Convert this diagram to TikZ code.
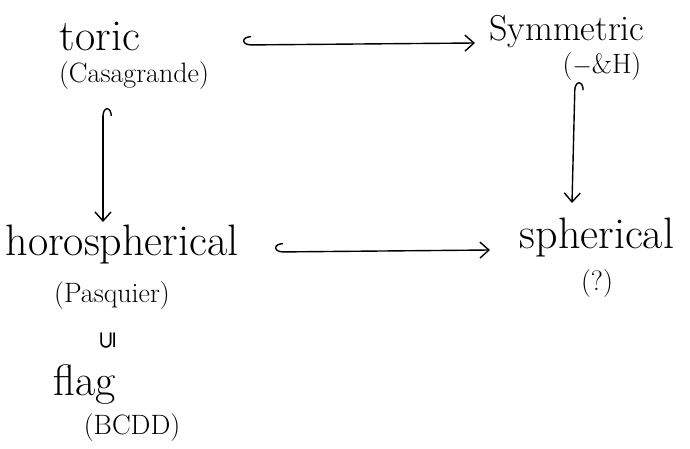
\documentclass[tikz,border=0pt]{standalone}
\usepackage{fontspec}
\newfontfamily\symfont{DejaVu Sans}
\usetikzlibrary{arrows.meta}
\begin{document}
\begin{tikzpicture}[x=1pt,y=-1pt,
  big/.style={font=\fontsize{44}{50}\selectfont, inner sep=0pt},
  mid/.style={font=\fontsize{36}{40}\selectfont, inner sep=0pt},
  small/.style={font=\fontsize{28}{32}\selectfont, inner sep=0pt},
  hk/.style={line width=1.4pt, arrows={Hooks[right,length=8pt,width=18pt]-Straight Barb[length=9pt,width=16pt]}}]
\useasboundingbox (0,0) rectangle (690,449);
\node[big] (toric) at (100,36) {toric};
\node[small] (cas) at (134,76) {(Casagrande)};
\node[mid] (sym) at (567,32) {Symmetric};
\node[small] (sh) at (602,67) {($-$\&H)};
\node[big] (horo) at (122,245) {horospherical};
\node[small] (pas) at (112,296) {(Pasquier)};
\node[big] (sph) at (597,238) {spherical};
\node[small] (q) at (597,284) {(?)};
\node[inner sep=0pt, rotate=90, font=\symfont\fontsize{24}{24}\selectfont] (sub) at (108,340) {⊆};
\node[big] (flag) at (85,385) {flag};
\node[small] (bcdd) at (132,428) {(BCDD)};
\coordinate (a1) at (243,45);
\coordinate (a2) at (475,43);
\coordinate (b1) at (103,108);
\coordinate (b2) at (103,222);
\coordinate (c1) at (575,82);
\coordinate (c2) at (572,203);
\coordinate (d1) at (275,252);
\coordinate (d2) at (490,250);
\draw[hk] (a1) -- (a2);
\draw[hk] (b1) -- (b2);
\draw[hk] (c1) -- (c2);
\draw[hk] (d1) -- (d2);
\end{tikzpicture}
\end{document}
